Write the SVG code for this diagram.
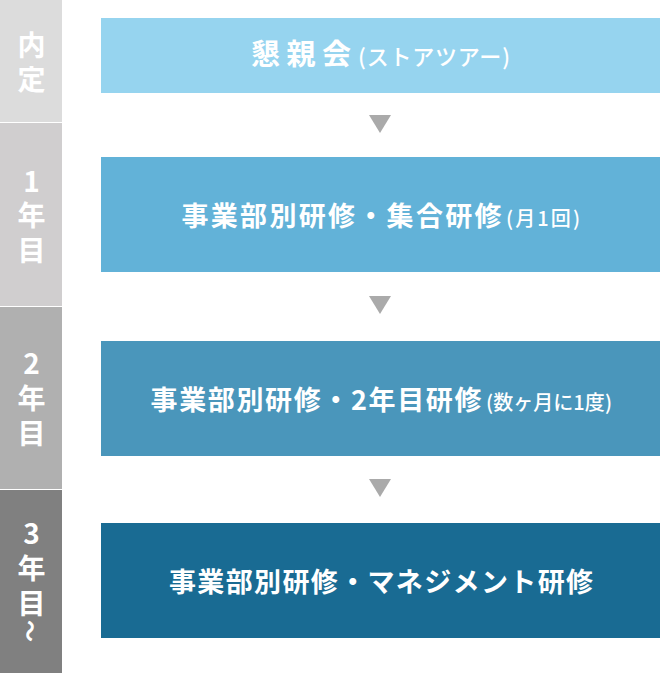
<svg xmlns="http://www.w3.org/2000/svg" width="660" height="674" viewBox="0 0 660 674">
<style>
.lbl{font-family:"Noto Sans CJK JP","Noto Sans",sans-serif;font-size:28px;font-weight:700;fill:#fff;text-anchor:middle}
.main{font-family:"Noto Sans CJK JP","Noto Sans",sans-serif;font-size:27px;font-weight:700;fill:#fff}
.sub{font-family:"Noto Sans CJK JP","Noto Sans",sans-serif;font-size:20px;font-weight:500;fill:#fff}
.tri{fill:#aaaaaa}
</style>
<rect width="660" height="674" fill="#fff"/>
<g id="years">
<g id="y0"><rect x="0" y="0" width="62" height="122" fill="#dcdcdc"/>
<text class="lbl"><tspan x="31.5" y="55.5">内</tspan><tspan x="31.5" y="89.5">定</tspan></text></g>
<g id="y1"><rect x="0" y="123" width="62" height="183" fill="#d0cecf"/>
<text class="lbl"><tspan x="31.5" y="191.5">1</tspan><tspan x="31.5" y="226">年</tspan><tspan x="31.5" y="261">目</tspan></text></g>
<g id="y2"><rect x="0" y="307" width="62" height="182" fill="#b0b0b0"/>
<text class="lbl"><tspan x="31.5" y="373.5">2</tspan><tspan x="31.5" y="409">年</tspan><tspan x="31.5" y="443.5">目</tspan></text></g>
<g id="y3"><rect x="0" y="490" width="62" height="183" fill="#808080"/>
<text class="lbl"><tspan x="31.5" y="543.5">3</tspan><tspan x="31.5" y="579">年</tspan><tspan x="31.5" y="614">目</tspan></text>
<text class="lbl" style="font-size:22px" transform="translate(31.5,631) rotate(90)" dominant-baseline="central">〜</text></g>
</g>
<g id="n1"><rect x="101" y="18" width="559" height="75" fill="#96d4ef"/>
<text y="65"><tspan class="main" style="font-size:29px" x="251" textLength="100" lengthAdjust="spacing">懇親会</tspan><tspan class="sub" style="font-size:22px" x="358" textLength="152" lengthAdjust="spacing">(ストアツアー)</tspan></text></g>
<g id="n2"><rect x="101" y="157" width="559" height="115" fill="#62b2d8"/>
<text y="225.5"><tspan class="main" x="181.5" textLength="320" lengthAdjust="spacing">事業部別研修・集合研修</tspan><tspan class="sub" x="506" textLength="74" lengthAdjust="spacing">(月1回)</tspan></text></g>
<g id="n3"><rect x="101" y="341" width="559" height="115" fill="#4a96bb"/>
<text y="409.5"><tspan class="main" x="150.5" textLength="331" lengthAdjust="spacing">事業部別研修・2年目研修</tspan><tspan class="sub" x="486" textLength="126" lengthAdjust="spacing">(数ヶ月に1度)</tspan></text></g>
<g id="n4"><rect x="101" y="523" width="559" height="115" fill="#196b93"/>
<text y="591.5"><tspan class="main" x="169" textLength="424" lengthAdjust="spacing">事業部別研修・マネジメント研修</tspan></text></g>
<g id="connectors">
<polygon class="tri" points="369,115 391,115 380,133"/>
<polygon class="tri" points="369,296 391,296 380,314"/>
<polygon class="tri" points="369,479 391,479 380,497"/>
</g>
</svg>
